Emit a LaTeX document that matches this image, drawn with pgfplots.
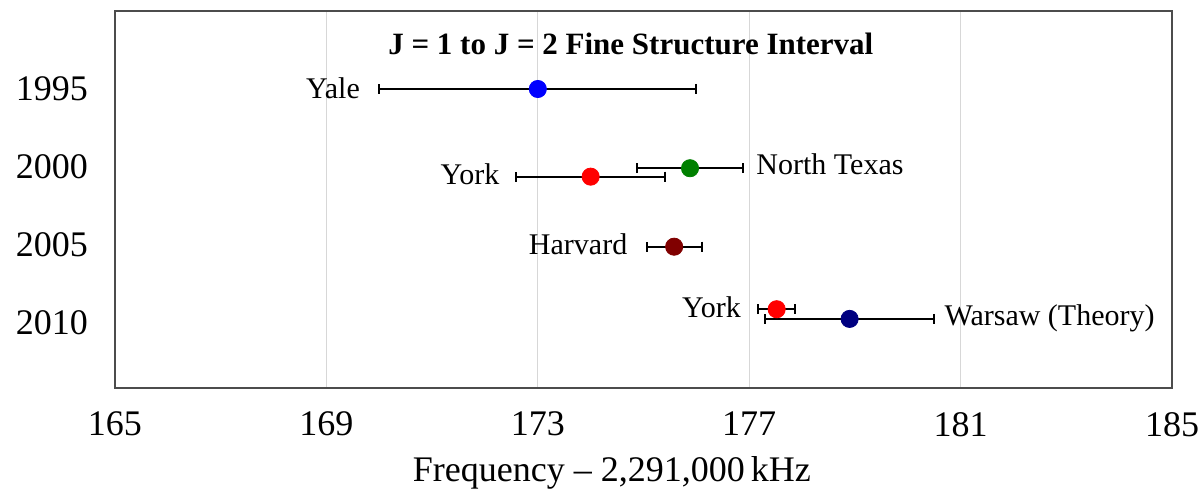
\documentclass[border=0pt]{standalone}
\usepackage{pgfplots}
\pgfplotsset{compat=1.18}
\usepackage{fontspec}
\setmainfont{Liberation Serif}
\definecolor{gridgray}{RGB}{215,215,215}
\definecolor{myblue}{RGB}{0,0,255}
\definecolor{mygreen}{RGB}{0,128,0}
\definecolor{myred}{RGB}{255,0,0}
\definecolor{mydarkred}{RGB}{128,0,0}
\definecolor{mynavy}{RGB}{0,0,128}
\tikzset{lbl/.style={inner sep=0pt, text depth=0pt, font=\fontsize{15}{17}\selectfont}}
\begin{document}
\begin{tikzpicture}
\useasboundingbox (-57.5pt,-52.5pt) rectangle (544pt,194pt);
\begin{axis}[
  scale only axis, width=528.5pt, height=188.5pt,
  at={(0pt,0pt)}, anchor=south west,
  xmin=165, xmax=185, ymin=1990, ymax=2014.17, y dir=reverse,
  xtick={165,169,173,177,181,185}, ytick={1995,2000,2005,2010},
  major tick length=0pt,
  xmajorgrids, grid style={gridgray, line width=0.6pt},
  axis line style={black!70, line width=0.8pt},
  tick label style={font=\fontsize{18}{20}\selectfont},
  /pgf/number format/assume math mode=true,
  /pgf/number format/1000 sep={},
  xticklabel style={yshift=-8.5pt},
  yticklabel style={xshift=-10pt},
  xlabel={Frequency – 2,291,000\,kHz},
  xlabel style={font=\fontsize{18}{20}\selectfont, at={(axis description cs:0.47,0)}, anchor=center, yshift=-42.5pt},
  pt/.style={only marks, mark=*, mark size=4.3pt,
    error bars/x dir=both, error bars/x explicit,
    error bars/error bar style={black, line width=1pt},
    error bars/error mark=|,
    error bars/error mark options={black, mark size=2.5pt, line width=1pt}},
]
\addplot[pt, color=myblue, mark options={fill=myblue}] coordinates {(173.0,1995.0) +- (3.0,0)};
\addplot[pt, color=myred, mark options={fill=myred}] coordinates {(174.0,2000.62) +- (1.41,0)};
\addplot[pt, color=mygreen, mark options={fill=mygreen}] coordinates {(175.88,2000.08) +- (1.0,0)};
\addplot[pt, color=mydarkred, mark options={fill=mydarkred}] coordinates {(175.58,2005.11) +- (0.52,0)};
\addplot[pt, color=mynavy, mark options={fill=mynavy}] coordinates {(178.9,2009.74) +- (1.6,0)};
\addplot[pt, color=myred, mark options={fill=myred}] coordinates {(177.52,2009.12) +- (0.35,0)};
\node[lbl, anchor=east] at (axis cs:169.64,1994.94) {Yale};
\node[lbl, anchor=east] at (axis cs:172.28,2000.45) {York};
\node[lbl, anchor=west] at (axis cs:177.13,1999.81) {North Texas};
\node[lbl, anchor=east] at (axis cs:174.70,2004.97) {Harvard};
\node[lbl, anchor=east] at (axis cs:176.85,2008.97) {York};
\node[lbl, anchor=west] at (axis cs:180.69,2009.49) {Warsaw (Theory)};
\node[font=\bfseries\fontsize{15.5}{18}\selectfont] at (axis description cs:0.488,0.912) {J = 1 to J = 2 Fine Structure Interval};
\end{axis}
\end{tikzpicture}
\end{document}
